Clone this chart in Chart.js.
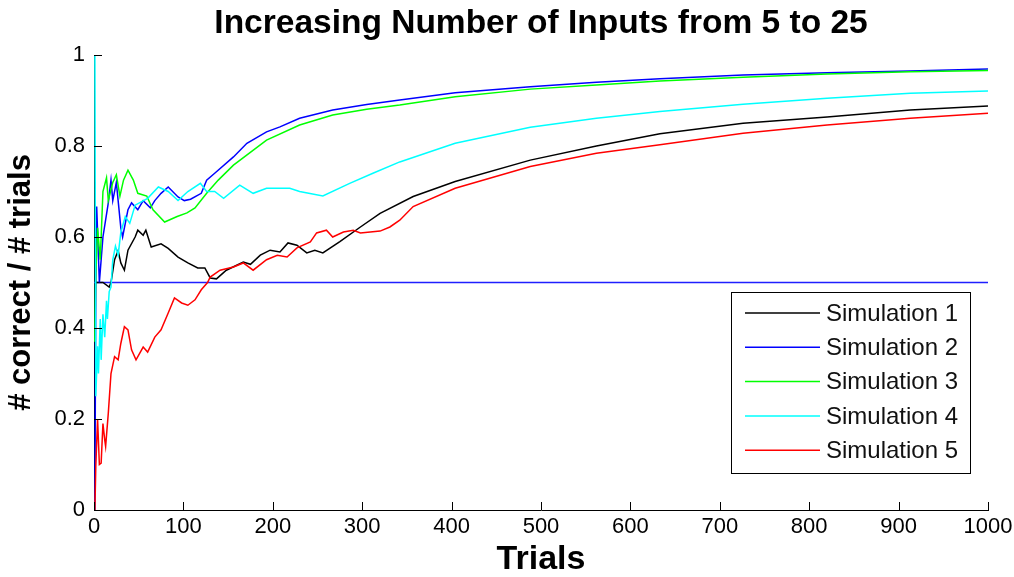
<!DOCTYPE html>
<html>
<head>
<meta charset="utf-8">
<title>Increasing Number of Inputs from 5 to 25</title>
<script src="https://cdn.jsdelivr.net/npm/chart.js"></script>
<style>
  html, body { margin: 0; padding: 0; background: #fff; }
  #wrap { width: 1014px; height: 577px; }
</style>
</head>
<body>
<div id="wrap"><canvas id="myChart"></canvas></div>
<script>
// values (trial, fraction correct)
const sim1X = [1, 10, 17, 19, 23, 27, 30, 34, 38, 46, 49, 55, 58, 64, 75, 83, 94, 105, 116, 124, 130, 137, 148, 167, 175, 186, 197, 208, 217, 227, 238, 247, 256, 275, 298, 320, 357, 404, 488, 562, 633, 726, 820, 913, 1000];
const sim1Y = [0.5, 0.5, 0.49, 0.5, 0.55, 0.57, 0.543, 0.527, 0.571, 0.6, 0.615, 0.604, 0.615, 0.578, 0.585, 0.575, 0.556, 0.543, 0.532, 0.532, 0.51, 0.508, 0.527, 0.545, 0.54, 0.56, 0.571, 0.567, 0.587, 0.582, 0.565, 0.571, 0.565, 0.59, 0.622, 0.652, 0.689, 0.722, 0.769, 0.8, 0.827, 0.85, 0.864, 0.879, 0.888];

const sim2X = [1, 2, 3, 6, 10, 16, 19, 21, 25, 30, 32, 38, 42, 49, 55, 63, 68, 75, 83, 94, 101, 108, 120, 126, 135, 156, 171, 193, 208, 230, 267, 305, 342, 404, 488, 562, 633, 726, 820, 913, 1000];
const sim2Y = [0, 0.5, 0.667, 0.5, 0.6, 0.675, 0.725, 0.68, 0.72, 0.62, 0.6, 0.66, 0.675, 0.66, 0.68, 0.664, 0.68, 0.696, 0.71, 0.688, 0.68, 0.683, 0.696, 0.725, 0.74, 0.776, 0.806, 0.831, 0.842, 0.861, 0.879, 0.891, 0.901, 0.917, 0.93, 0.94, 0.948, 0.956, 0.961, 0.965, 0.969];

const sim3X = [1, 2, 4, 7, 10, 14, 16, 21, 25, 29, 33, 38, 44, 49, 59, 66, 79, 93, 104, 113, 126, 139, 156, 193, 230, 267, 305, 342, 404, 488, 562, 633, 726, 820, 913, 1000];
const sim3Y = [0.37, 0.52, 0.62, 0.55, 0.70, 0.73, 0.68, 0.72, 0.737, 0.69, 0.725, 0.747, 0.725, 0.696, 0.69, 0.66, 0.633, 0.645, 0.653, 0.664, 0.696, 0.725, 0.758, 0.813, 0.846, 0.868, 0.881, 0.89, 0.908, 0.925, 0.934, 0.943, 0.951, 0.958, 0.963, 0.966];

const sim4X = [1, 2, 4, 5, 7, 8, 10, 12, 14, 15, 17, 19, 21, 24, 27, 30, 35, 40, 46, 60, 72, 83, 94, 105, 119, 126, 135, 145, 163, 178, 193, 219, 230, 256, 286, 312, 342, 404, 488, 562, 633, 726, 820, 913, 1000];
const sim4Y = [1.0, 0.25, 0.36, 0.3, 0.42, 0.33, 0.43, 0.38, 0.46, 0.42, 0.48, 0.49, 0.55, 0.58, 0.56, 0.61, 0.645, 0.63, 0.67, 0.685, 0.71, 0.70, 0.68, 0.70, 0.718, 0.70, 0.70, 0.685, 0.714, 0.696, 0.707, 0.707, 0.70, 0.69, 0.718, 0.74, 0.765, 0.806, 0.841, 0.861, 0.876, 0.892, 0.905, 0.916, 0.921];

const sim5X = [1, 2, 4, 6, 8, 10, 12, 13, 16, 19, 23, 27, 30, 34, 38, 42, 47, 55, 60, 68, 75, 83, 90, 98, 105, 113, 120, 127, 130, 141, 156, 167, 178, 193, 205, 216, 227, 242, 249, 260, 267, 279, 290, 298, 309, 320, 331, 342, 357, 404, 488, 562, 633, 726, 820, 913, 1000];
const sim5Y = [0, 0.095, 0.2, 0.1, 0.103, 0.19, 0.154, 0.14, 0.213, 0.3, 0.337, 0.33, 0.366, 0.403, 0.396, 0.352, 0.33, 0.358, 0.347, 0.38, 0.396, 0.433, 0.466, 0.455, 0.45, 0.462, 0.484, 0.5, 0.512, 0.527, 0.534, 0.543, 0.527, 0.55, 0.56, 0.556, 0.576, 0.589, 0.609, 0.615, 0.6, 0.611, 0.615, 0.609, 0.611, 0.613, 0.622, 0.637, 0.667, 0.707, 0.755, 0.784, 0.803, 0.828, 0.846, 0.861, 0.872];

const chanceX = [0, 1000];
const chanceY = [0.5, 0.5];

const seriesNames = ['Simulation 1', 'Simulation 2', 'Simulation 3', 'Simulation 4', 'Simulation 5'];
const seriesColors = ['#000000', '#0000ff', '#00ff00', '#00ffff', '#ff0000'];
const xTicks = [0, 100, 200, 300, 400, 500, 600, 700, 800, 900, 1000];
const yTicks = [0, 0.2, 0.4, 0.6, 0.8, 1];

const textFont = '"Liberation Sans", Arial, sans-serif';

function toPoints(xs, ys) {
    return xs.map((t, i) => ({ x: t, y: ys[i] }));
}

const allX = [sim1X, sim2X, sim3X, sim4X, sim5X];
const allY = [sim1Y, sim2Y, sim3Y, sim4Y, sim5Y];

const datasets = seriesNames.map((name, i) => ({
    label: name,
    data: toPoints(allX[i], allY[i]),
    borderColor: seriesColors[i],
    borderWidth: 1.5,
    pointRadius: 0,
    tension: 0,
    fill: false,
    order: 5 - i   // later simulations on top, like the original plot
}));
datasets.push({
    label: 'chance',
    data: toPoints(chanceX, chanceY),
    borderColor: '#1f1fff',
    borderWidth: 1.5,
    pointRadius: 0,
    fill: false,
    order: 10
});

// tick marks pointing into the plot
const inwardTicks = {
    id: 'inwardTicks',
    afterDatasetsDraw(chart) {
        const { ctx, chartArea: a, scales: { x, y } } = chart;
        ctx.save();
        ctx.strokeStyle = '#000';
        ctx.lineWidth = 1;
        ctx.beginPath();
        xTicks.forEach(v => {
            const px = Math.round(x.getPixelForValue(v)) + 0.5;
            ctx.moveTo(px, a.bottom);
            ctx.lineTo(px, a.bottom - 8);
        });
        yTicks.forEach(v => {
            const py = Math.round(y.getPixelForValue(v)) + 0.5;
            ctx.moveTo(a.left, py);
            ctx.lineTo(a.left + 8, py);
        });
        ctx.stroke();
        ctx.restore();
    }
};

// boxed legend in the lower right of the plot
const boxLegend = {
    id: 'boxLegend',
    afterDraw(chart) {
        const { ctx, chartArea: a } = chart;
        const w = 239, h = 181;
        const left = a.right - 18 - w;
        const top = a.top + 237;
        ctx.save();
        ctx.fillStyle = '#fff';
        ctx.fillRect(left, top, w, h);
        ctx.strokeStyle = '#000';
        ctx.lineWidth = 1;
        ctx.strokeRect(Math.round(left) + 0.5, Math.round(top) + 0.5, w, h);
        ctx.font = '24px ' + textFont;
        ctx.textBaseline = 'middle';
        ctx.fillStyle = '#111';
        seriesNames.forEach((name, i) => {
            const rowY = top + 21 + i * 34.3;
            ctx.strokeStyle = seriesColors[i];
            ctx.lineWidth = 1.5;
            ctx.beginPath();
            ctx.moveTo(left + 14, rowY);
            ctx.lineTo(left + 89, rowY);
            ctx.stroke();
            ctx.fillText(name, left + 95, rowY + 1);
        });
        ctx.restore();
    }
};

const ctx = document.getElementById('myChart').getContext('2d');
new Chart(ctx, {
    type: 'line',
    data: { datasets: datasets },
    options: {
        responsive: true,
        maintainAspectRatio: false,
        animation: false,
        events: [],
        layout: { padding: 0 },
        plugins: {
            legend: { display: false },
            tooltip: { enabled: false },
            title: {
                display: true,
                fullSize: false,
                text: 'Increasing Number of Inputs from 5 to 25',
                color: '#000',
                font: { family: textFont, size: 33.5, weight: 'bold', lineHeight: 1.2 },
                padding: { top: 4, bottom: 10.8 }
            }
        },
        scales: {
            x: {
                type: 'linear',
                min: 0,
                max: 1000,
                afterBuildTicks: s => { s.ticks = xTicks.map(v => ({ value: v })); },
                afterFit: s => { s.height = 67; s.paddingLeft = 0; s.paddingRight = 26; },
                grid: { display: true, drawOnChartArea: false, drawTicks: false },
                border: { display: true, color: '#000', width: 1 },
                ticks: {
                    color: '#000',
                    padding: 4,
                    maxRotation: 0,
                    font: { family: textFont, size: 22 },
                    callback: v => String(v)
                },
                title: {
                    display: true,
                    text: 'Trials',
                    color: '#000',
                    font: { family: textFont, size: 34, weight: 'bold', lineHeight: 1 },
                    padding: { top: 0, bottom: 0 }
                }
            },
            y: {
                type: 'linear',
                min: 0,
                max: 1,
                afterBuildTicks: s => { s.ticks = yTicks.map(v => ({ value: v })); },
                afterFit: s => { s.width = 94; s.paddingTop = 0; s.paddingBottom = 0; },
                grid: { display: true, drawOnChartArea: false, drawTicks: false },
                border: { display: true, color: '#000', width: 1 },
                ticks: {
                    color: '#000',
                    padding: 9,
                    font: { family: textFont, size: 22 },
                    callback: v => String(v)
                },
                title: {
                    display: true,
                    text: '# correct / # trials',
                    color: '#000',
                    font: { family: textFont, size: 31, weight: 'bold', lineHeight: 1 },
                    padding: { top: 6, bottom: 0 }
                }
            }
        }
    },
    plugins: [inwardTicks, boxLegend]
});
</script>
</body>
</html>
